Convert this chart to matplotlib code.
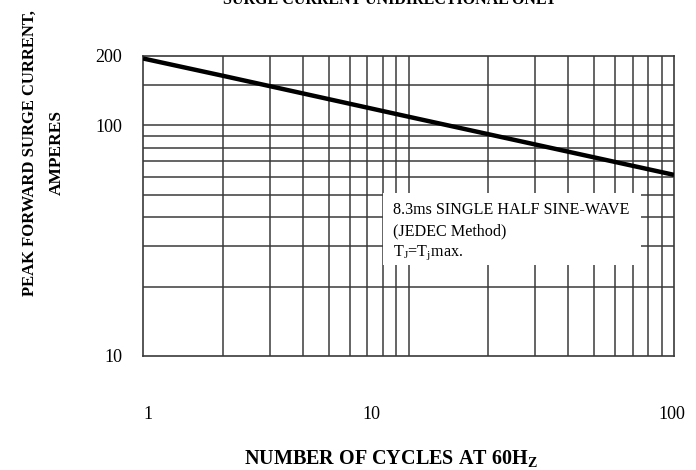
import matplotlib
matplotlib.use("Agg")
import matplotlib.pyplot as plt
from matplotlib.patches import Rectangle

plt.rcParams['font.family'] = ['Liberation Serif', 'DejaVu Serif']
plt.rcParams['mathtext.fontset'] = 'custom'
plt.rcParams['mathtext.rm'] = 'Liberation Serif'
plt.rcParams['mathtext.bf'] = 'Liberation Serif:bold'

# surge curve
cycles = [1, 2, 10, 100]
current = [195, 164, 109, 61]

x_labels = ['1', '10', '100']
x_label_pos = [0.01, 0.43, 0.995]   # where the datasheet put its labels (axes fraction)
y_ticks = [10, 100, 200]
y_grid = [20, 30, 40, 50, 60, 70, 80, 90, 150]
x_grid = [2, 3, 4, 5, 6, 7, 8, 9, 20, 30, 40, 50, 60, 70, 80, 90]

fig = plt.figure(figsize=(6.96, 4.70), dpi=100)
ax = fig.add_axes([0.2055, 0.2426, 0.7629, 0.6384])

ax.set_xscale('log')
ax.set_yscale('log')
ax.set_xlim(1, 100)
ax.set_ylim(10, 200)

gc = '#3a3a3a'
for v in x_grid + [10]:
    ax.axvline(v, color=gc, lw=1.1, zorder=1)
for v in y_grid + [100]:
    ax.axhline(v, color=gc, lw=1.1, zorder=1)

ax.plot(cycles, current, color='black', lw=3.2, zorder=3, solid_capstyle='butt')

for s in ax.spines.values():
    s.set_color(gc)
    s.set_linewidth(1.2)

ax.set_yticks(y_ticks)
ax.set_yticklabels([str(t) for t in y_ticks])
ax.yaxis.set_minor_locator(matplotlib.ticker.NullLocator())
ax.xaxis.set_minor_locator(matplotlib.ticker.NullLocator())
ax.set_xticks([])
ax.tick_params(axis='y', length=0, pad=15, labelsize=13)

for lab, p in zip(x_labels, x_label_pos):
    ax.text(p, -0.195, lab, transform=ax.transAxes, ha='center', va='center', fontsize=13)

# note box
ax.add_patch(Rectangle((0.452, 0.303), 0.486, 0.24, transform=ax.transAxes,
                       facecolor='white', edgecolor='none', zorder=2))
ax.text(0.47, 0.485, '8.3ms SINGLE HALF SINE-WAVE', transform=ax.transAxes,
        fontsize=11.6, va='center', zorder=4)
ax.text(0.47, 0.415, '(JEDEC Method)', transform=ax.transAxes,
        fontsize=11.6, va='center', zorder=4)
ax.text(0.47, 0.345, r'T$_\mathrm{J}$=T$_\mathrm{j}$max.', transform=ax.transAxes,
        fontsize=11.6, va='center', zorder=4)

fig.text(0.56, 1.0, 'SURGE CURRENT UNIDIRECTIONAL ONLY', ha='center', va='center',
         fontsize=11.5, fontweight='bold')
fig.text(0.562, 0.022, r'NUMBER OF CYCLES AT 60H$_\mathbf{Z}$', ha='center', va='center',
         fontsize=14.5, fontweight='bold')
fig.text(0.043, 0.675, 'PEAK FORWARD SURGE CURRENT,', rotation=90, ha='center', va='center',
         fontsize=12, fontweight='bold')
fig.text(0.082, 0.675, 'AMPERES', rotation=90, ha='center', va='center',
         fontsize=12.5, fontweight='bold')

fig.savefig('out.png', dpi=100)
